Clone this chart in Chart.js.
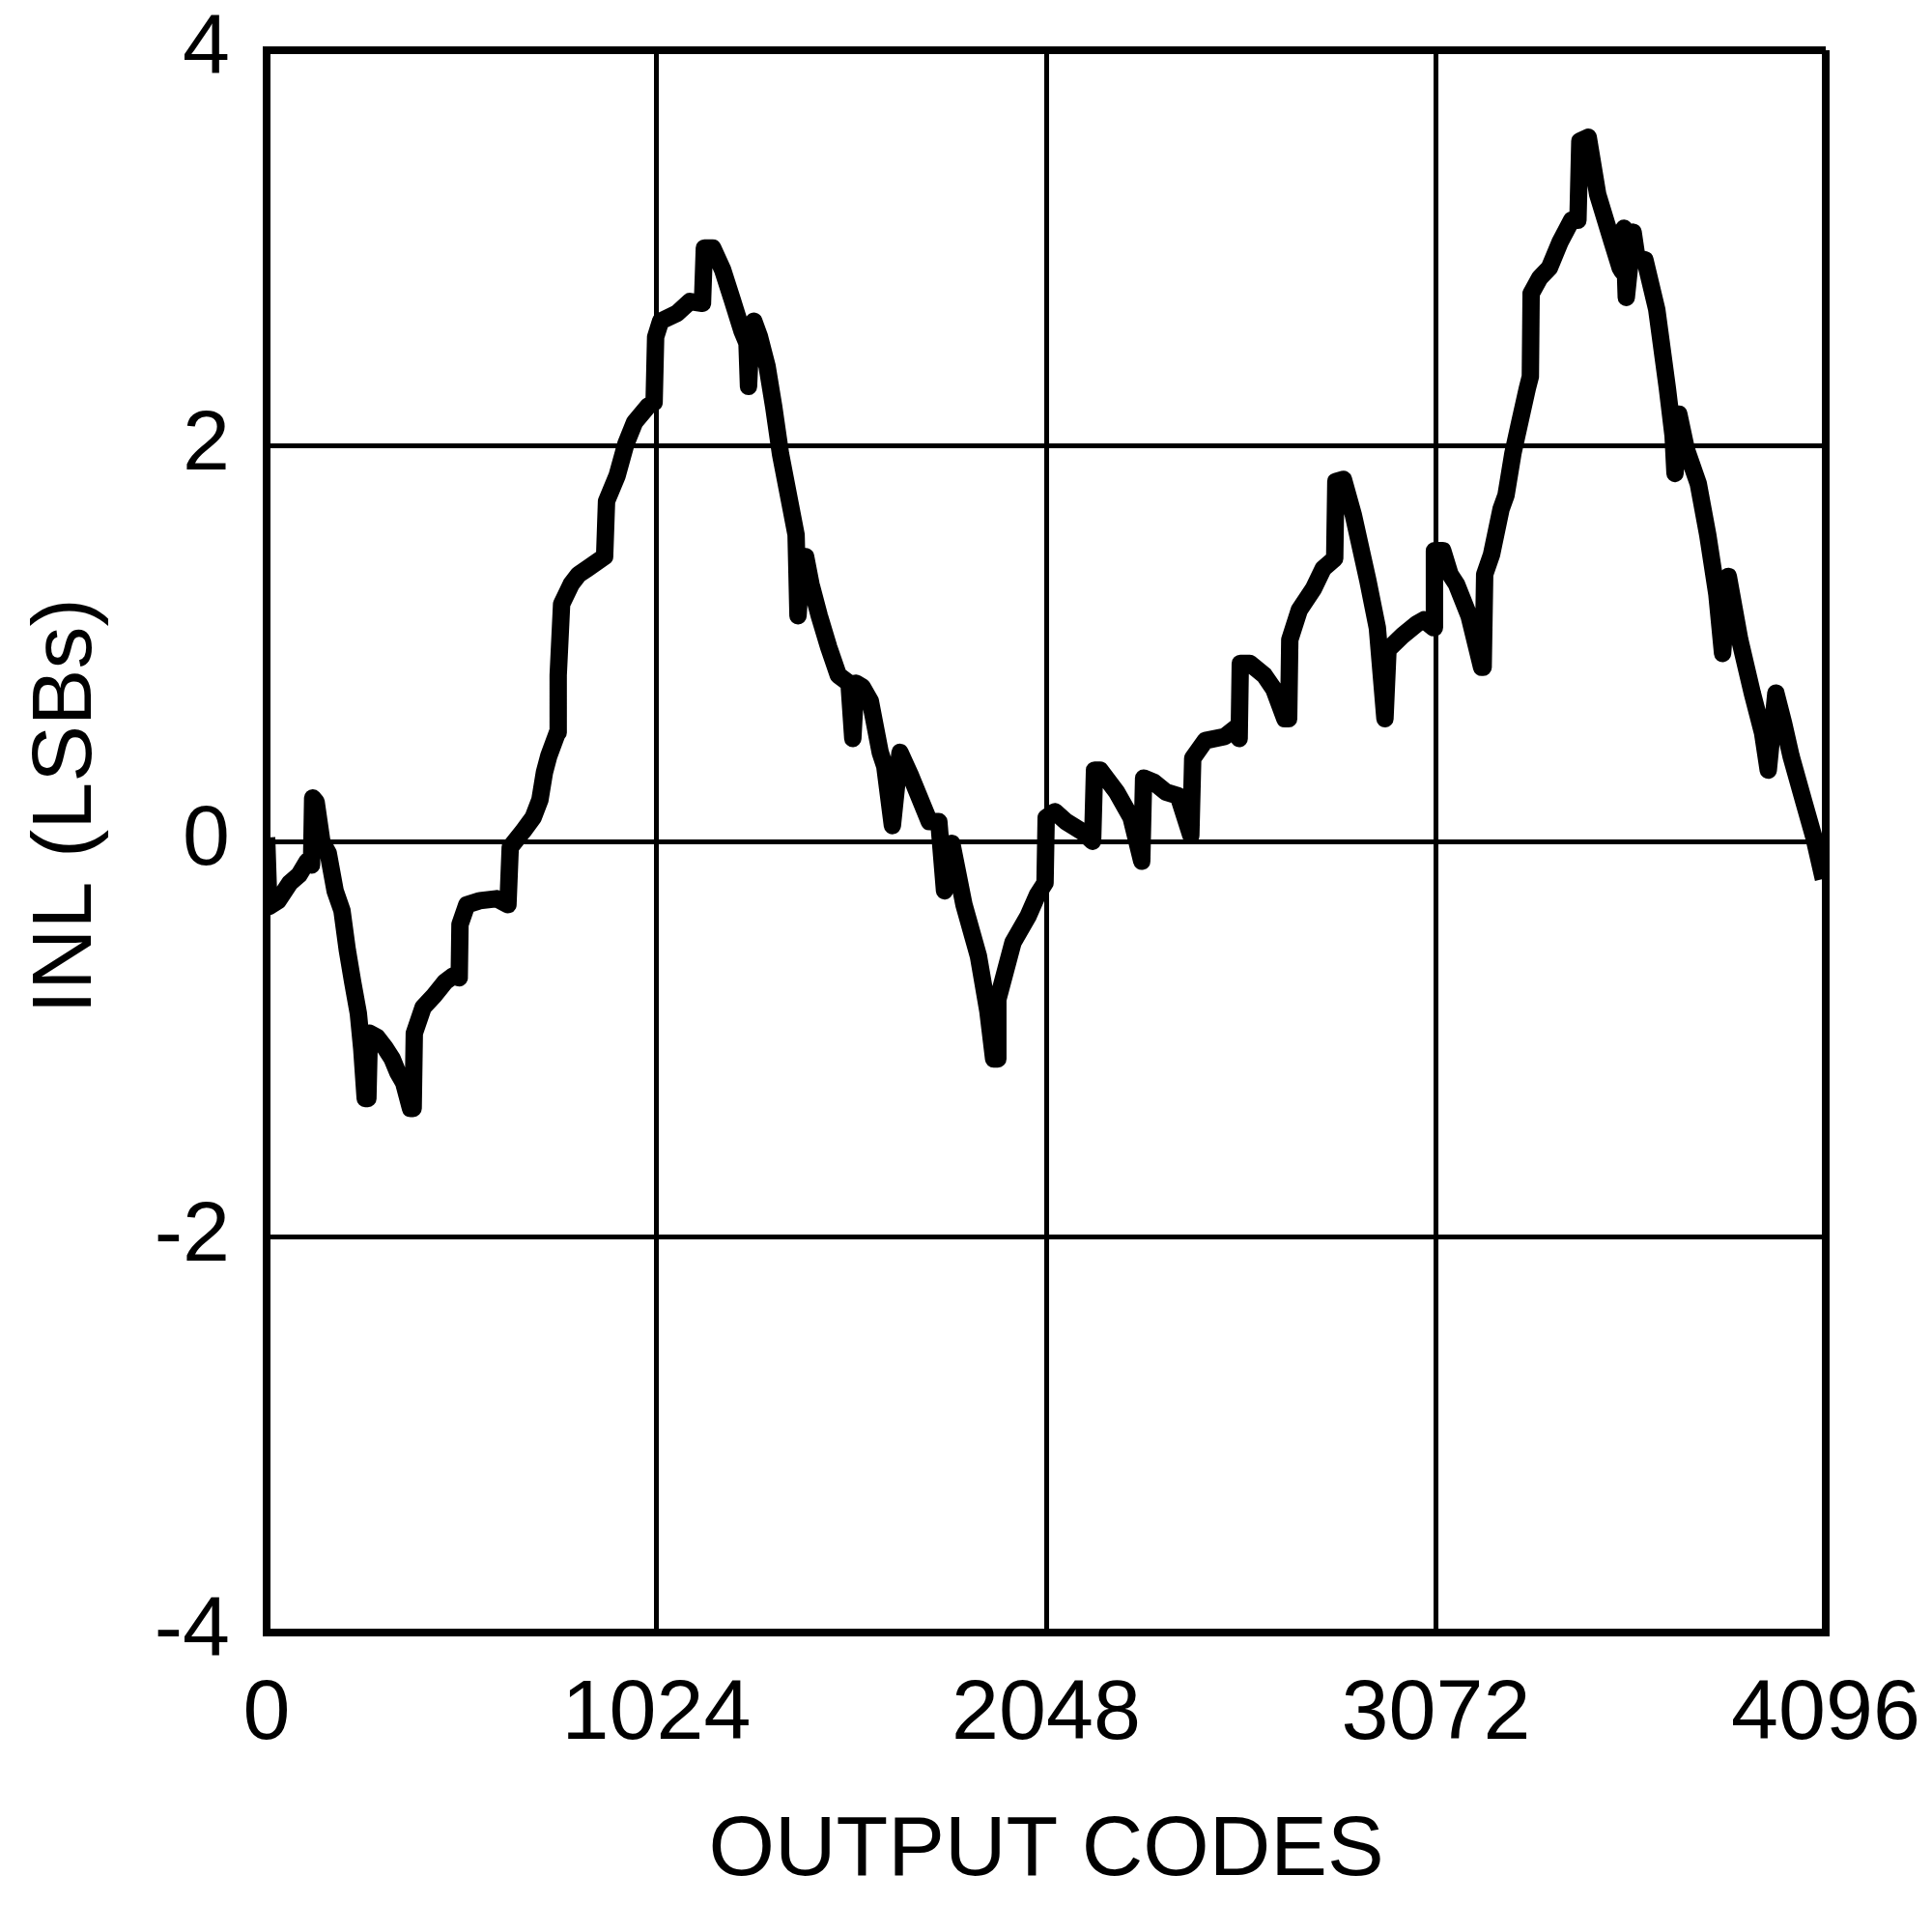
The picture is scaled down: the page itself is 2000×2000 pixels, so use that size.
<!DOCTYPE html>
<html>
<head>
<meta charset="utf-8">
<script src="https://cdn.jsdelivr.net/npm/chart.js@4.4.1/dist/chart.umd.min.js"></script>
<style>
  html, body { margin: 0; padding: 0; background: #fff; }
  canvas { display: block; }
</style>
</head>
<body>
<canvas id="inl" width="2000" height="2000"></canvas>
<script>
// INL vs output code
const codes = [
  0, 6, 30, 61, 85, 107, 118, 121, 130, 145, 162, 180, 198, 212, 226, 241, 250, 259, 266, 270,
  290, 310, 330, 345, 360, 378, 385, 388, 411, 440, 469, 490, 506, 508, 526, 560, 604, 634, 640, 673,
  700, 718, 730, 741, 764, 766, 775, 800, 820, 843, 888, 893, 921, 944, 967, 1002, 1018, 1022, 1035, 1078,
  1112, 1145, 1150, 1172, 1198, 1223, 1249, 1262, 1266, 1272, 1280, 1295, 1315, 1332, 1350, 1375, 1391, 1396, 1405, 1416,
  1430, 1452, 1477, 1502, 1530, 1540, 1548, 1565, 1586, 1612, 1624, 1644, 1664, 1690, 1741, 1766, 1781, 1800, 1832, 1870,
  1895, 1910, 1920, 1921, 1961, 2000, 2025, 2045, 2048, 2071, 2100, 2142, 2170, 2175, 2190, 2233, 2271, 2299, 2304, 2330,
  2362, 2395, 2428, 2433, 2466, 2517, 2550, 2555, 2558, 2583, 2621, 2646, 2675, 2685, 2688, 2713, 2751, 2776, 2806, 2809,
  2829, 2855, 2893, 2918, 2938, 2946, 2984, 3022, 3040, 3066, 3068, 3090, 3109, 3126, 3159, 3192, 3196, 3200, 3218, 3243,
  3256, 3274, 3290, 3312, 3320, 3322, 3345, 3370, 3398, 3428, 3445, 3450, 3472, 3497, 3535, 3556, 3562, 3566, 3572, 3590,
  3600, 3621, 3652, 3680, 3695, 3700, 3710, 3730, 3761, 3786, 3810, 3825, 3840, 3870, 3903, 3930, 3945, 3965, 3985, 4005,
  4040, 4065, 4090
];
const inl = [
  0.02, -0.33, -0.30, -0.21, -0.17, -0.10, -0.12, 0.22, 0.20, 0.00, -0.06, -0.25, -0.35, -0.55, -0.71, -0.87, -1.05, -1.30, -1.30, -0.97,
  -0.99, -1.04, -1.10, -1.17, -1.22, -1.35, -1.35, -0.97, -0.84, -0.78, -0.71, -0.68, -0.69, -0.42, -0.32, -0.30, -0.29, -0.32, -0.03, 0.05,
  0.12, 0.21, 0.35, 0.43, 0.55, 0.84, 1.20, 1.30, 1.35, 1.38, 1.44, 1.72, 1.85, 2.01, 2.12, 2.20, 2.22, 2.55, 2.63, 2.67,
  2.73, 2.72, 3.00, 3.00, 2.89, 2.74, 2.58, 2.52, 2.30, 2.55, 2.63, 2.55, 2.40, 2.20, 1.96, 1.71, 1.55, 1.14, 1.40, 1.44,
  1.30, 1.14, 0.98, 0.84, 0.80, 0.52, 0.80, 0.78, 0.71, 0.45, 0.38, 0.08, 0.45, 0.34, 0.10, 0.10, -0.25, -0.01, -0.32, -0.58,
  -0.86, -1.10, -1.10, -0.80, -0.51, -0.38, -0.27, -0.21, 0.12, 0.15, 0.10, 0.05, 0.00, 0.36, 0.36, 0.25, 0.12, -0.10, 0.32, 0.30,
  0.25, 0.23, 0.03, 0.42, 0.51, 0.53, 0.58, 0.52, 0.90, 0.90, 0.84, 0.77, 0.62, 0.62, 1.02, 1.17, 1.28, 1.38, 1.43, 1.82,
  1.83, 1.65, 1.32, 1.08, 0.62, 0.97, 1.04, 1.10, 1.12, 1.08, 1.47, 1.47, 1.35, 1.30, 1.14, 0.88, 0.88, 1.35, 1.45, 1.68,
  1.75, 1.96, 2.10, 2.29, 2.35, 2.77, 2.85, 2.90, 3.03, 3.14, 3.14, 3.54, 3.56, 3.27, 3.03, 2.90, 2.88, 3.10, 2.75, 3.08,
  2.95, 2.94, 2.69, 2.29, 2.05, 1.86, 2.16, 1.98, 1.81, 1.55, 1.25, 0.95, 1.34, 1.02, 0.75, 0.55, 0.36, 0.75, 0.60, 0.43,
  0.19, 0.02, -0.19
];

const xTicks = [0, 1024, 2048, 3072, 4096];
const yTicks = [-4, -2, 0, 2, 4];

const FONT = 'Liberation Sans, Arial, Helvetica, sans-serif';
const tickFont = { family: FONT, size: 88 };

// outer frame lines are a bit heavier than the inner grid
const frameOrGrid = (ctx, n) => (ctx.index === 0 || ctx.index === n - 1) ? 8 : 5;

new Chart(document.getElementById('inl'), {
  type: 'line',
  data: {
    datasets: [{
      data: codes.map((c, i) => ({ x: c, y: inl[i] })),
      borderColor: '#000',
      borderWidth: 18,
      borderJoinStyle: 'round',
      pointRadius: 0,
      tension: 0,
      fill: false,
    }],
  },
  options: {
    responsive: false,
    animation: false,
    devicePixelRatio: 1,
    layout: { padding: { top: 52, right: 110, bottom: 0, left: 0 } },
    plugins: { legend: { display: false }, tooltip: { enabled: false } },
    scales: {
      x: {
        type: 'linear',
        min: 0,
        max: 4096,
        afterBuildTicks: (s) => { s.ticks = xTicks.map(v => ({ value: v })); },
        afterFit: (s) => { s.height = 310; s.paddingLeft = 0; s.paddingRight = 0; },
        ticks: { font: tickFont, color: '#000', padding: 33, maxRotation: 0, callback: (v) => String(v) },
        grid: { color: '#000', lineWidth: (ctx) => frameOrGrid(ctx, xTicks.length), drawTicks: false },
        border: { display: true, color: '#000', width: 8 },
        title: { display: true, text: 'OUTPUT CODES', color: '#000', font: tickFont, padding: { top: 30, bottom: 30 } },
      },
      y: {
        min: -4,
        max: 4,
        afterBuildTicks: (s) => { s.ticks = yTicks.map(v => ({ value: v })); },
        afterFit: (s) => { s.width = 276; s.paddingTop = 0; s.paddingBottom = 0; },
        ticks: { font: tickFont, color: '#000', padding: 38, callback: (v) => String(v) },
        grid: { color: '#000', lineWidth: (ctx) => frameOrGrid(ctx, yTicks.length), drawTicks: false },
        border: { display: true, color: '#000', width: 8 },
        // leading spaces nudge the label up a little, as in the original
        title: { display: true, text: '   INL (LSBs)', color: '#000', font: tickFont, padding: { top: 17, bottom: 17 } },
      },
    },
  },
});
</script>
</body>
</html>
